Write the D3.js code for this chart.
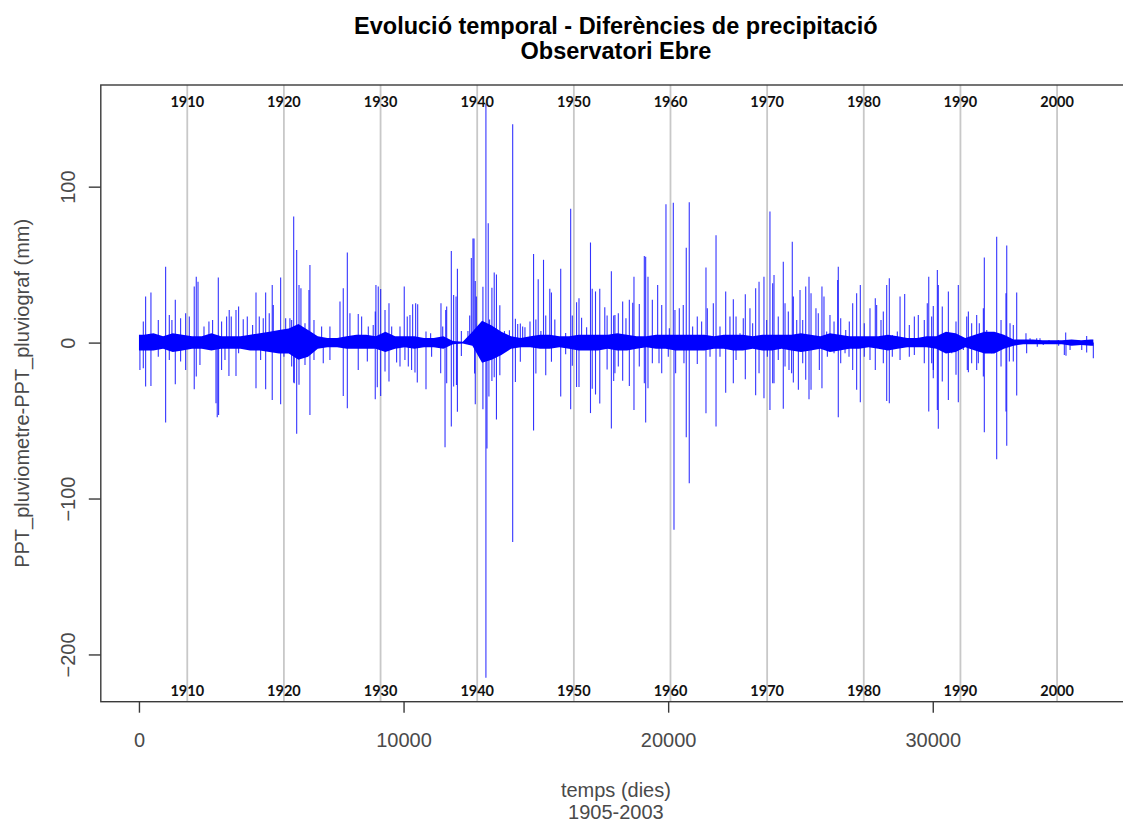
<!DOCTYPE html>
<html>
<head>
<meta charset="utf-8">
<script src="https://cdn.jsdelivr.net/npm/d3@7"></script>
<style>
  body { margin: 0; background: #ffffff; }
  svg { display: block; }
</style>
</head>
<body>
<svg id="chart" width="1123" height="822"></svg>
<script>
// ---- data -----------------------------------------------------------------
const firstYear = 1905;
const lastDay = 36069;                     // last daily record (autumn 2003)
const decadeYears = [1910, 1920, 1930, 1940, 1950, 1960, 1970, 1980, 1990, 2000];
const xTicks = [0, 10000, 20000, 30000];
const yTicks = [-200, -100, 0, 100];

// envelope of the dense daily differences, one value per year 1905..2003 (mm)
const coreTop = [
  5, 6, 4, 6, 5, 4, 4, 6, 4, 4, 4, 5, 6, 7, 8, 9, 12, 8, 4, 3,
  3, 4, 5, 5, 4, 7, 4, 4, 4, 3, 3, 4, 1, 0.6, 7, 14, 11, 7, 4, 3,
  4, 5, 5, 4, 4, 5, 5, 5, 5, 6, 5, 4, 4, 5, 5, 5, 5, 5, 5, 4,
  5, 5, 5, 4, 5, 5, 5, 5, 6, 5, 4, 6, 5, 4, 4, 4, 4, 5, 4, 3,
  3, 4, 4, 7, 6, 3, 5, 7, 7, 5, 2, 2, 2, 1.5, 1.5, 1.5, 2, 1.5, 2];
const coreBottom = [
  -5, -5, -4, -6, -5, -4, -4, -5, -4, -4, -4, -5, -5, -6, -7, -7, -11, -9, -4, -3,
  -3, -4, -4, -4, -4, -6, -4, -3, -4, -3, -3, -4, -1, -0.6, -2, -13, -11, -8, -4, -3,
  -3, -4, -4, -3, -4, -5, -5, -5, -4, -5, -5, -4, -3, -4, -4, -5, -5, -5, -5, -4,
  -4, -5, -5, -4, -5, -5, -4, -5, -6, -5, -4, -6, -5, -4, -4, -3, -4, -5, -4, -3,
  -3, -3, -4, -7, -6, -3, -5, -7, -7, -4, -2, -1, -1, -1, -1, -1, -2, -1.5, -2];

// individual large differences: [decimal year, mm]
const spikes1905to1921 = [
  [1905.10, 4.9], [1905.45, 13.5], [1905.69, 29.5], [1906.24, 32.1], [1907.00, 14.5], [1907.76, 48.7],
  [1908.14, 17.7], [1908.41, 14.5], [1908.76, 27.4], [1909.31, 15.6], [1909.83, 18.8], [1910.21, 16.7],
  [1910.72, 35.9], [1910.93, 42.3], [1911.11, 39.1], [1911.73, 10.3], [1912.24, 13.5], [1912.62, 14.5],
  [1913.21, 41.7], [1913.55, 13.5], [1914.07, 16.7], [1914.34, 20.9], [1914.55, 16.7], [1915.04, 20.9],
  [1915.31, 23.1], [1915.79, 15.0], [1916.21, 16.7], [1916.76, 11.3], [1917.11, 32.1], [1917.45, 16.7],
  [1917.86, 15.6], [1918.11, 32.1], [1918.48, 18.8], [1918.79, 37.0], [1918.90, 24.1], [1919.66, 41.7],
  [1920.18, 15.6], [1920.62, 15.6], [1921.01, 80.8],
  [1905.10, -17.5], [1905.45, -16.5], [1905.69, -28.2], [1906.24, -27.8], [1907.00, -9.0], [1907.76, -51.3],
  [1908.14, -11.1], [1908.76, -26.7], [1909.31, -12.2], [1909.83, -17.5], [1910.72, -29.9], [1910.93, -21.8],
  [1911.31, -14.3], [1912.97, -38.9], [1913.10, -47.9], [1913.24, -46.4], [1913.55, -17.5], [1913.90, -11.1],
  [1914.31, -21.4], [1915.04, -21.4], [1915.31, -6.8], [1917.11, -29.3], [1917.59, -11.1], [1918.11, -29.9],
  [1918.79, -36.8], [1919.66, -39.5], [1920.00, -9.0], [1921.01, -25.6]
];
const spikes1921to1937 = [
  [1920.80, 14.5], [1921.32, 59.4], [1921.56, 37.0], [1921.76, 34.8], [1922.18, 12.4], [1922.59, 33.8],
  [1922.69, 49.8], [1923.11, 14.5], [1923.90, 10.3], [1924.76, 10.3], [1925.80, 26.3], [1926.14, 34.8],
  [1926.56, 57.7], [1926.83, 18.8], [1927.69, 18.4], [1928.04, 16.7], [1928.73, 10.3], [1929.24, 11.3],
  [1929.45, 19.9], [1929.52, 37.0], [1929.76, 35.9], [1930.01, 34.4], [1930.46, 20.9], [1930.87, 25.2],
  [1931.15, 10.3], [1932.01, 10.3], [1932.45, 35.9], [1932.76, 16.7], [1933.04, 17.7], [1933.32, 24.6],
  [1933.63, 25.2], [1933.84, 24.6], [1934.70, 7.1], [1935.18, 6.0], [1936.25, 25.2], [1936.43, 10.3],
  [1936.74, 20.9], [1936.84, 23.1], [1937.32, 58.8], [1937.56, 30.6],
  [1920.80, -15.4], [1921.07, -26.1], [1921.32, -58.5], [1921.56, -27.1], [1922.18, -14.3], [1922.69, -46.4],
  [1923.11, -11.1], [1924.07, -13.2], [1924.76, -11.1], [1926.14, -34.2], [1926.56, -42.1], [1927.69, -17.5],
  [1928.63, -12.2], [1929.45, -36.3], [1929.66, -28.6], [1930.01, -34.2], [1930.46, -18.6], [1930.87, -25.0],
  [1931.66, -12.8], [1932.01, -15.4], [1932.52, -11.1], [1932.87, -15.4], [1933.21, -17.5], [1933.56, -19.2],
  [1933.80, -25.6], [1934.70, -29.9], [1935.28, -9.0], [1936.22, -19.7], [1936.67, -67.1], [1936.84, -26.1],
  [1937.32, -53.8], [1937.56, -28.2]
];
const spikes1937to1954 = [
  [1937.81, 29.6], [1937.95, 47.4], [1938.36, 7.4], [1939.04, 7.4], [1939.22, 17.3], [1939.39, 54.3],
  [1939.56, 66.7], [1939.67, 66.7], [1939.80, 39.5], [1939.91, 29.6], [1940.59, 35.8], [1940.90, 153],
  [1941.14, 76.5], [1941.28, 14.8], [1941.52, 35.1], [1941.76, 44.9], [1941.99, 43.7], [1942.34, 24.0],
  [1942.82, 7.4], [1943.33, 7.9], [1943.67, 140], [1943.95, 15.3], [1944.19, 11.9], [1944.46, 12.3],
  [1944.70, 10.4], [1944.94, 9.9], [1945.46, 13.6], [1945.83, 56.8], [1946.07, 14.8], [1946.31, 40.7],
  [1946.59, 7.4], [1946.86, 53.1], [1947.09, 17.3], [1947.51, 34.6], [1947.68, 32.1], [1948.03, 14.8],
  [1948.64, 47.4], [1949.15, 6.2], [1949.67, 85.9], [1949.84, 17.3], [1950.28, 25.9], [1950.53, 28.4],
  [1950.80, 16.0], [1951.32, 9.9], [1951.72, 64.2], [1951.90, 34.6], [1952.24, 32.8], [1952.68, 34.6],
  [1953.20, 22.7], [1953.44, 17.3], [1953.88, 45.7], [1954.12, 17.3],
  [1937.85, -27.2], [1937.95, -44.4], [1938.36, -8.6], [1939.73, -19.8], [1939.80, -39.5], [1940.59, -42.7],
  [1940.90, -215], [1941.01, -67.9], [1941.21, -34.6], [1941.52, -24.7], [1941.76, -22.2], [1941.99, -49.4],
  [1942.34, -21.0], [1943.67, -127.9], [1943.95, -25.2], [1944.46, -12.3], [1945.83, -56.3], [1946.07, -19.8],
  [1947.09, -21.0], [1947.68, -12.3], [1948.64, -34.6], [1949.15, -7.4], [1949.67, -42.7], [1949.84, -14.8],
  [1950.28, -28.4], [1950.53, -28.4], [1951.72, -45.2], [1951.90, -29.6], [1952.24, -33.3], [1952.68, -39.0],
  [1953.44, -17.3], [1953.88, -55.1], [1954.12, -24.7]
];
const spikes1954to1970 = [
  [1954.25, 17.7], [1954.60, 18.8], [1955.05, 26.3], [1955.39, 15.6], [1955.74, 27.4], [1956.09, 25.6],
  [1956.22, 42.3], [1956.77, 24.8], [1957.29, 55.6], [1957.43, 55.1], [1957.67, 42.3], [1958.12, 27.4],
  [1958.67, 37.0], [1959.09, 24.1], [1959.53, 88.7], [1959.88, 9.2], [1960.29, 89.7], [1960.46, 20.9],
  [1960.91, 22.0], [1961.32, 24.1], [1961.63, 60.9], [1961.94, 90.0], [1962.29, 10.3], [1962.77, 16.7],
  [1963.22, 13.5], [1963.67, 48.1], [1963.81, 22.0], [1964.43, 25.2], [1964.71, 68.8], [1965.12, 10.3],
  [1965.71, 32.7], [1966.15, 16.7], [1966.50, 27.8], [1966.78, 16.7], [1967.19, 6.0], [1967.53, 15.6],
  [1967.74, 31.0], [1968.22, 22.0], [1968.50, 12.4], [1968.81, 34.8], [1969.16, 39.1], [1969.67, 42.3],
  [1969.95, 14.5], [1970.29, 84.0], [1970.57, 38.0],
  [1954.25, -19.7], [1954.60, -15.4], [1955.05, -24.4], [1955.74, -27.8], [1956.22, -43.2], [1956.77, -15.4],
  [1957.29, -26.1], [1957.43, -51.3], [1957.67, -29.3], [1958.12, -13.2], [1958.81, -13.2], [1959.09, -19.7],
  [1959.77, -9.0], [1960.36, -120], [1960.53, -19.7], [1961.39, -13.2], [1961.63, -60.7], [1961.94, -90.2],
  [1962.77, -13.7], [1963.67, -45.3], [1964.09, -9.0], [1964.71, -53.8], [1965.12, -9.0], [1965.71, -32.1],
  [1966.50, -26.1], [1966.78, -11.1], [1967.74, -23.5], [1968.81, -33.8], [1969.16, -19.7], [1969.67, -35.7],
  [1970.02, -9.0], [1970.29, -43.2], [1970.57, -26.1]
];
const spikes1970to1987 = [
  [1970.71, 43.4], [1971.15, 16.7], [1971.67, 51.9], [1971.85, 25.2], [1972.19, 19.9], [1972.60, 64.7],
  [1972.71, 29.5], [1973.06, 14.5], [1973.40, 33.8], [1973.68, 14.5], [1973.99, 35.9], [1974.33, 42.3],
  [1974.54, 31.6], [1975.05, 22.0], [1975.29, 18.8], [1975.67, 35.9], [1975.88, 29.5], [1976.16, 7.1],
  [1976.50, 17.7], [1976.92, 13.5], [1977.30, 40.2], [1977.36, 48.7], [1977.61, 15.6], [1978.13, 8.1],
  [1978.50, 13.5], [1978.85, 25.2], [1979.26, 31.6], [1979.64, 37.0], [1980.05, 12.4], [1980.64, 22.0],
  [1981.19, 28.4], [1981.33, 24.1], [1981.78, 14.5], [1982.02, 19.9], [1982.37, 37.0], [1982.64, 41.2],
  [1982.95, 4.9], [1983.47, 7.1], [1983.75, 29.5], [1984.23, 31.2], [1984.71, 11.3], [1985.23, 16.7],
  [1985.64, 17.7], [1986.26, 14.5], [1986.57, 25.2], [1986.72, 42.3], [1987.19, 23.5],
  [1970.71, -26.1], [1971.15, -11.1], [1971.67, -42.5], [1971.85, -15.4], [1972.26, -17.5], [1972.53, -19.7],
  [1972.71, -25.6], [1973.23, -30.3], [1973.68, -13.2], [1973.99, -23.9], [1974.33, -36.3], [1974.54, -30.3],
  [1975.40, -17.5], [1975.67, -29.3], [1976.23, -9.0], [1976.92, -6.8], [1977.36, -47.9], [1977.61, -13.2],
  [1978.06, -6.8], [1978.47, -9.0], [1978.85, -17.5], [1979.26, -30.3], [1979.64, -38.2], [1980.05, -9.0],
  [1980.64, -11.1], [1981.19, -17.5], [1982.02, -13.2], [1982.37, -37.4], [1982.64, -38.9], [1982.95, -9.0],
  [1983.75, -11.1], [1984.71, -9.0], [1985.23, -7.9], [1986.26, -13.2], [1986.72, -44.2], [1987.19, -17.5]
];
const spikes1987to2003 = [
  [1987.02, 16.7], [1987.61, 46.6], [1987.71, 37.0], [1988.12, 23.1], [1988.40, 6.0], [1988.75, 32.7],
  [1989.10, 6.0], [1989.54, 13.5], [1989.78, 37.0], [1990.30, 2.8], [1990.65, 16.7], [1990.82, 19.9],
  [1991.16, 12.4], [1991.68, 17.7], [1991.95, 12.4], [1992.37, 22.0], [1992.47, 54.5], [1992.72, 8.1],
  [1993.06, 6.0], [1993.75, 67.9], [1994.20, 14.5], [1994.71, 31.6], [1994.79, 62.2], [1995.13, 12.4],
  [1995.47, 11.3], [1995.82, 32.1], [1996.78, 6.0], [1997.20, 2.8], [1997.89, 2.8], [1998.23, 2.8],
  [1999.16, 1.7], [2000.13, 1.7], [2000.89, 6.4], [2001.51, 1.7], [2002.27, 1.3], [2003.06, 4.3], [2003.65, 1.3],
  [1987.02, -13.2], [1987.19, -22.9], [1987.61, -43.2], [1987.71, -55.3], [1988.12, -25.0], [1988.75, -36.8],
  [1989.10, -6.8], [1989.54, -20.7], [1989.78, -38.2], [1990.30, -4.7], [1990.71, -17.5], [1990.82, -19.0],
  [1991.16, -13.2], [1991.68, -17.5], [1991.85, -13.2], [1992.37, -21.8], [1992.47, -57.5], [1992.72, -5.8],
  [1993.23, -6.8], [1993.75, -74.8], [1994.20, -15.4], [1994.71, -44.2], [1994.79, -66.2], [1995.06, -12.2],
  [1995.47, -12.2], [1995.82, -34.0], [1996.85, -6.8], [1997.95, -2.6], [1998.57, -1.5], [2000.16, -2.1],
  [2000.75, -7.9], [2000.92, -8.5], [2001.34, -4.7], [2002.55, -4.7], [2003.06, -6.4], [2003.75, -10.0]
];

// ---- layout -----------------------------------------------------------------
const svg = d3.select("#chart");
const plot = { left: 100.8, right: 1131, top: 85, bottom: 701.7 };
const blue = "#0000ff";
const axisGrey = "#3a3a3a";
const textGrey = "#4a4a4a";

const x = d3.scaleLinear().domain([-1442, 37492]).range([plot.left, plot.right]);
const y = d3.scaleLinear().domain([-230.3, 165.2]).range([plot.bottom, plot.top]);

const start = new Date(firstYear, 0, 1);
const yearToDay = yr => (yr - firstYear) * 365.25;

svg.append("defs").append("clipPath").attr("id", "plotClip")
  .append("rect")
  .attr("x", plot.left).attr("y", plot.top)
  .attr("width", plot.right - plot.left).attr("height", plot.bottom - plot.top);

// decade reference lines
const decadeDays = decadeYears.map(yr => d3.timeDay.count(start, new Date(yr, 0, 1)));
svg.append("g").selectAll("line").data(decadeDays).join("line")
  .attr("x1", d => x(d)).attr("x2", d => x(d))
  .attr("y1", plot.top).attr("y2", plot.bottom)
  .attr("stroke", "#c8c8c8").attr("stroke-width", 1.8);

// dense core of the daily series
const corePoints = coreTop.map((t, i) => ({
  day: Math.min(lastDay, yearToDay(firstYear + i + 0.5)), top: t, bottom: coreBottom[i]
}));
corePoints.unshift({ day: 0, top: coreTop[0], bottom: coreBottom[0] });
corePoints.push({ day: lastDay, top: coreTop[coreTop.length - 1], bottom: coreBottom[coreBottom.length - 1] });

const data = svg.append("g").attr("clip-path", "url(#plotClip)");
data.append("path")
  .datum(corePoints)
  .attr("fill", blue)
  .attr("d", d3.area().x(d => x(d.day)).y0(d => y(d.bottom)).y1(d => y(d.top)));

// vertical lines from zero to each day's difference
const spikes = [].concat(spikes1905to1921, spikes1921to1937, spikes1937to1954,
  spikes1954to1970, spikes1970to1987, spikes1987to2003);
data.append("g").selectAll("line").data(spikes).join("line")
  .attr("x1", d => x(yearToDay(d[0]))).attr("x2", d => x(yearToDay(d[0])))
  .attr("y1", y(0)).attr("y2", d => y(d[1]))
  .attr("stroke", blue).attr("stroke-width", 1.1).attr("stroke-opacity", 0.8);

// decade labels, top and bottom of the plot
const yearLabels = svg.append("g")
  .attr("font-family", "Lato, 'Open Sans', sans-serif")
  .attr("font-weight", 700).attr("font-size", 14.5).attr("fill", "#111")
  .attr("text-anchor", "middle");
yearLabels.selectAll("text.top").data(decadeYears).join("text").attr("class", "top")
  .attr("x", (d, i) => x(decadeDays[i])).attr("y", plot.top + 22).text(d => d);
yearLabels.selectAll("text.bottom").data(decadeYears).join("text").attr("class", "bottom")
  .attr("x", (d, i) => x(decadeDays[i])).attr("y", plot.bottom - 6).text(d => d);

// frame
svg.append("rect")
  .attr("x", plot.left).attr("y", plot.top)
  .attr("width", plot.right - plot.left).attr("height", plot.bottom - plot.top)
  .attr("fill", "none").attr("stroke", axisGrey).attr("stroke-width", 1.4);

// axes
const xAxis = d3.axisBottom(x).tickValues(xTicks).tickSize(11).tickPadding(20)
  .tickFormat(d3.format("d"));
const gx = svg.append("g").attr("transform", `translate(0,${plot.bottom})`).call(xAxis);
gx.select(".domain").remove();

const yAxis = d3.axisLeft(y).tickValues(yTicks).tickSize(12).tickFormat(d3.format("d"));
const gy = svg.append("g").attr("transform", `translate(${plot.left},0)`).call(yAxis);
gy.select(".domain").remove();
gy.selectAll(".tick text")
  .attr("x", null).attr("dy", null)
  .attr("transform", "translate(-26,0) rotate(-90)")
  .attr("text-anchor", "middle");

[gx, gy].forEach(g => {
  g.selectAll(".tick line").attr("stroke", axisGrey).attr("stroke-width", 1.4);
  g.selectAll(".tick text")
    .attr("font-family", "'Liberation Sans', Arial, sans-serif")
    .attr("font-size", 20).attr("fill", textGrey);
});

// titles
const cx = (plot.left + plot.right) / 2;
const titles = svg.append("g")
  .attr("font-family", "'Liberation Sans', Arial, sans-serif")
  .attr("text-anchor", "middle");
titles.append("text").attr("x", cx).attr("y", 34)
  .attr("font-weight", 700).attr("font-size", 23.5).attr("fill", "#000")
  .text("Evolució temporal - Diferències de precipitació");
titles.append("text").attr("x", cx).attr("y", 59)
  .attr("font-weight", 700).attr("font-size", 23.5).attr("fill", "#000")
  .text("Observatori Ebre");
titles.append("text").attr("x", cx).attr("y", 797)
  .attr("font-size", 20).attr("fill", textGrey).text("temps (dies)");
titles.append("text").attr("x", cx).attr("y", 819)
  .attr("font-size", 20).attr("fill", textGrey).text("1905-2003");
titles.append("text")
  .attr("transform", `translate(29,${(plot.top + plot.bottom) / 2}) rotate(-90)`)
  .attr("font-size", 20).attr("fill", textGrey)
  .text("PPT_pluviometre-PPT_pluviograf (mm)");
</script>
</body>
</html>
